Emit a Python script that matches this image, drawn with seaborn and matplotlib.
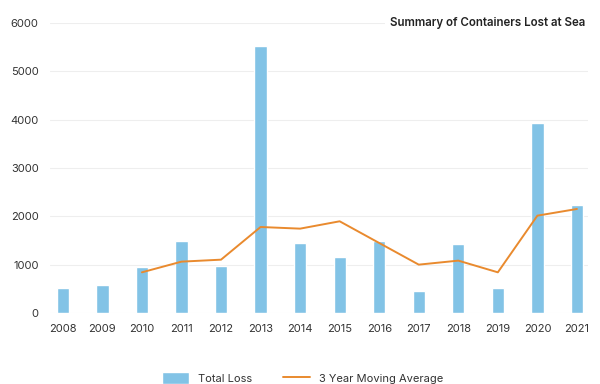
import matplotlib
matplotlib.use("Agg")
import matplotlib.pyplot as plt
import seaborn as sns

years = ["2008", "2009", "2010", "2011", "2012", "2013", "2014",
         "2015", "2016", "2017", "2018", "2019", "2020", "2021"]
total_loss = [517, 579, 952, 1483, 966, 5531, 1441,
              1159, 1483, 448, 1428, 517, 3931, 2228]
avg_years = years[2:]
moving_avg = [841, 1062, 1103, 1779, 1745, 1897,
              1448, 1000, 1083, 841, 2014, 2152]

sns.set_style("white")
plt.rcParams["font.family"] = ["Inter", "DejaVu Sans"]

fig = plt.figure(figsize=(6, 3.84), dpi=100)
ax = fig.add_axes([0.083, 0.185, 0.897, 0.755])

sns.barplot(x=years, y=total_loss, order=years, color="#82C3E6",
            saturation=1, width=0.31, label="Total Loss", ax=ax)
sns.pointplot(x=avg_years, y=moving_avg, order=years, color="#E98A2E",
              markers="", linewidth=1.4, errorbar=None,
              label="3 Year Moving Average", ax=ax)

ax.set_xlim(-0.33, 13.28)
ax.set_ylim(0, 6000)
ax.set_yticks(range(0, 6001, 1000))
ax.yaxis.grid(True, color="#EEEEEE", linewidth=0.8)
ax.set_axisbelow(True)
sns.despine(ax=ax, left=True, bottom=True)
ax.tick_params(axis="both", length=0, labelsize=8, labelcolor="#333333", pad=8)
ax.set_xlabel("")
ax.set_ylabel("")

ax.text(0.995, 1.0, "Summary of Containers Lost at Sea", transform=ax.transAxes,
        ha="right", va="center", fontsize=8.3, fontweight="semibold", color="#222222",
        bbox=dict(facecolor="white", edgecolor="none", pad=4))

handles, labels = ax.get_legend_handles_labels()
order = [labels.index("Total Loss"), labels.index("3 Year Moving Average")]
ax.legend([handles[i] for i in order], [labels[i] for i in order],
          loc="center", bbox_to_anchor=(0.47, -0.225), ncol=2, frameon=False,
          fontsize=8, handlelength=2.4, handleheight=1.3, columnspacing=2.8,
          labelcolor="#333333")

plt.savefig("out.png", dpi=100)
